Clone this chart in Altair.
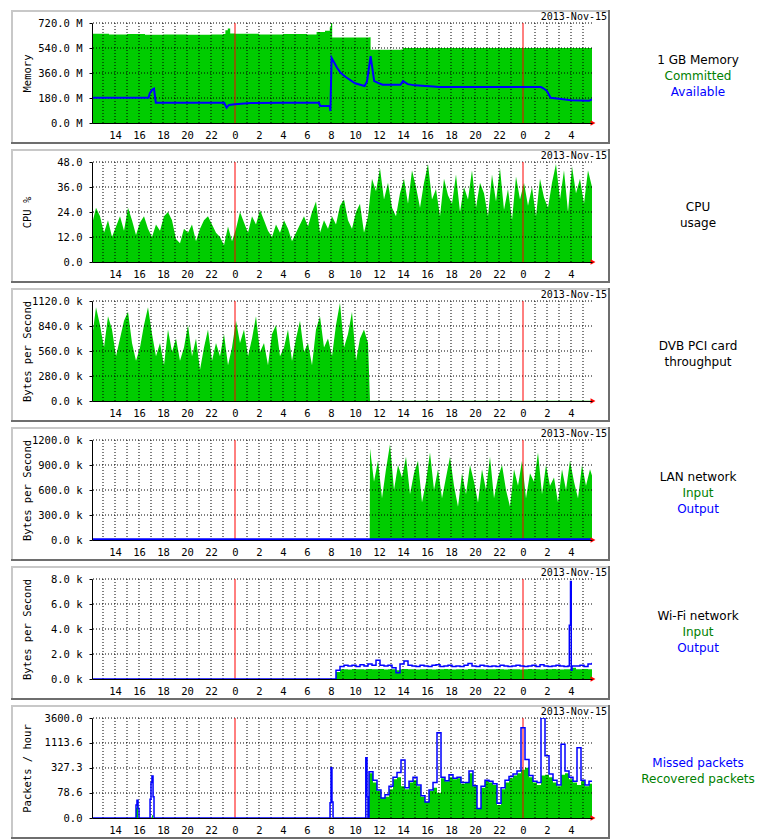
import altair as alt
import numpy as np
import pandas as pd

# ---------------- common time axis (hours relative to midnight 14 Nov) ----------------
T0, T1 = -11.917, 29.75
STEP = 1 / 3  # 20 minutes
XLABEL_HOURS = list(range(-10, 30, 2))
XGRID_HOURS = [h for h in range(-11, 30) if h not in (0, 24)]
MIDNIGHTS = [0, 24]
DATE_TEXT = "2013-Nov-15"

# ---------------- panel 1: memory ----------------
MEM_TICKS = [0, 180, 360, 540, 720]
MEM_COMMIT_T = [-11.917, -10.5, -9.0, -7.5, -6.0, -4.0, -2.0, -1.0, -0.8, -0.6, -0.4, 0.0,
                2.0, 4.0, 6.0, 6.8, 7.5, 7.9, 8.0, 8.1, 11.2, 11.3, 13.8, 14.0, 29.75]
MEM_COMMIT_V = [642, 638, 640, 636, 638, 636, 638, 640, 668, 680, 645, 642,
                638, 640, 638, 655, 665, 690, 720, 615, 618, 528, 530, 540, 538]
MEM_AVAIL_T = [-11.917, -7.2, -7.1, -6.9, -6.75, -6.6, -0.9, -0.7, -0.5, 0.0, 1.3, 4.0,
               7.0, 7.1, 7.9, 7.95, 8.05, 8.5, 8.8, 9.2, 10.0, 10.8, 11.0, 11.3, 11.6,
               12.0, 12.3, 13.8, 14.0, 14.4, 15.0, 16.5, 17.0, 25.5, 25.7, 26.0, 26.3,
               27.0, 28.0, 29.5, 29.75]
MEM_AVAIL_V = [182, 182, 215, 240, 247, 146, 146, 110, 130, 135, 144, 146,
               146, 122, 122, 86, 470, 398, 362, 333, 286, 266, 300, 482, 302,
               286, 276, 276, 302, 280, 271, 262, 259, 259, 250, 230, 182,
               175, 163, 160, 170]

# ---------------- panel 2: CPU (20-minute samples from T0) ----------------
CPU_TICKS = [0, 12, 24, 36, 48]
CPU = [18, 26, 22, 14, 20, 12, 17, 22, 15, 26, 20, 13,
       19, 22, 16, 12, 18, 15, 22, 24, 20, 11, 9, 16,
       14, 18, 10, 16, 20, 22, 18, 14, 12, 8, 17, 10,
       16, 24, 19, 14, 22, 18, 25, 20, 15, 12, 18, 14,
       20, 16, 10, 14, 18, 22, 17, 24, 29, 14, 20, 16,
       22, 18, 27, 30, 20, 16, 24, 28, 14, 22, 40, 34,
       45, 30, 38, 26, 22, 33, 40, 28, 44, 36, 26, 38,
       47, 30, 35, 22, 40, 32, 28, 42, 24, 36, 30, 44,
       26, 38, 33, 22, 42, 29, 45, 25, 35, 20, 41, 30,
       38, 27, 36, 22, 40, 31, 26, 38, 47, 30, 44, 24,
       46, 33, 40, 28, 44, 36]

# ---------------- panel 3: DVB card (k bytes/s) ----------------
DVB_TICKS = [0, 280, 560, 840, 1120]
DVB = [700, 1050, 850, 600, 950, 800, 500, 700, 900, 1000, 650, 450,
       600, 850, 1050, 750, 500, 650, 400, 800, 550, 700, 450, 600,
       850, 500, 700, 350, 600, 800, 450, 650, 500, 750, 400, 600,
       900, 650, 800, 500, 700, 950, 550, 650, 400, 750, 850, 500,
       600, 800, 450, 700, 900, 550, 650, 400, 800, 950, 600, 700,
       500, 850, 1100, 600, 750, 1000, 450, 700, 800, 650]
DVB_TAIL_T = [11.25, 29.75]
DVB_TAIL_V = [4, 4]

# ---------------- panel 4: LAN (k bytes/s) ----------------
LAN_TICKS = [0, 300, 600, 900, 1200]
LAN_IN_START = 11.25
LAN_IN = [1100, 700, 950, 500, 850, 1150, 600, 900, 750, 1000, 550, 800,
          950, 450, 700, 1050, 600, 850, 500, 750, 1000, 650, 400, 800,
          550, 900, 700, 450, 850, 600, 1000, 500, 750, 900, 600, 400,
          850, 650, 950, 500, 800, 700, 1050, 550, 900, 650, 750, 450,
          850, 600, 950, 700, 500, 900, 650, 850, 700]
LAN_OUT_T = [-11.917, 29.75]
LAN_OUT_V = [8, 8]

# ---------------- panel 5: Wi-Fi (bytes/s) ----------------
WIFI_TICKS = [0, 2000, 4000, 6000, 8000]
WIFI_START = 8.417
WIFI_IN = [560, 780, 790, 770, 800, 780, 790, 770, 800, 790, 780, 800,
           770, 790, 780, 700, 780, 800, 780, 790, 770, 780, 790, 780,
           770, 790, 780, 800, 780, 770, 790, 780, 770, 800, 780, 790,
           780, 770, 790, 780, 800, 780, 770, 790, 780, 790, 770, 780,
           800, 780, 790, 770, 780, 790, 800, 780, 770, 790, 780, 900,
           790, 780, 800, 790, 800]
WIFI_OUT = [700, 1000, 1100, 1050, 1100, 1000, 1150, 1050, 1200, 1100, 1500, 1100,
            1050, 1100, 900, 500, 1200, 1450, 1100, 1050, 1000, 1100, 1050, 1000,
            1100, 1150, 1000, 1050, 1100, 1000, 1050, 1000, 1100, 1250, 1050, 1000,
            1100, 1050, 1000, 1050, 1000, 1100, 1050, 1000, 1050, 1100, 1050, 1000,
            1050, 1100, 1000, 1150, 1050, 1000, 1050, 1100, 1050, 1000, 1050, 1050,
            1050, 1100, 1000, 1200, 1300]
WIFI_SPIKE_T = [27.86, 27.96, 28.02]
WIFI_SPIKE_V = [4300, 7800, 700]

# ---------------- panel 6: packets / hour ----------------
PKT_TICKS = [0, 78.6, 327.3, 1113.6, 3600.0]
PKT_MISS_T = [-11.917, -8.33, -8.25, -8.17, -8.08, -8.0, -7.17, -7.08, -7.0, -6.92, -6.83,
              -6.75, 7.83, 7.92, 8.0, 8.08, 8.17, 10.83, 10.9, 11.0, 11.08]
PKT_MISS_V = [0, 0, 30, 46, 20, 0, 0, 50, 150, 215, 60,
              0, 0, 37, 332, 40, 0, 0, 548, 60, 0]
PKT_REC_T = [-11.917, -8.33, -8.25, -8.17, -8.08, -6.92, -6.83]
PKT_REC_V = [0, 0, 22, 30, 0, 5, 0]
PKT_START = 11.167
PKT_REC = [250, 150, 90, 55, 60, 100, 180, 200, 120, 100, 150, 170,
           120, 60, 40, 90, 110, 80, 190, 160, 200, 180, 190, 140,
           150, 250, 120, 20, 110, 160, 150, 130, 30, 100, 150, 190,
           220, 250, 300, 330, 200, 150, 130, 220, 230, 200, 150, 120,
           230, 250, 180, 150, 130, 160, 120, 140, 140]
PKT_MISS = [270, 170, 95, 55, 70, 120, 200, 260, 490, 110, 160, 200,
            130, 65, 40, 95, 150, 1811, 200, 165, 230, 190, 200, 150,
            150, 280, 125, 20, 120, 170, 160, 140, 35, 110, 170, 210,
            240, 280, 2290, 500, 220, 160, 150, 3600, 600, 240, 170, 130,
            1046, 280, 200, 160, 890, 170, 130, 160, 160]

# ---------------- styling ----------------
GREEN = "#00cc00"
GREEN_TXT = "#008000"
BLUE = "#0000ff"
RED = "#ff0000"
MONO = "DejaVu Sans Mono"
SANS = "DejaVu Sans"


def grid_df(start, values):
    return pd.DataFrame({"h": start + np.arange(len(values)) * STEP, "v": values})


def pts_df(times, values):
    return pd.DataFrame({"h": times, "v": values})


def one():
    return pd.DataFrame({"a": [0]})


def frame_layers():
    light, dark = "#c8c8c8", "#6e6e6e"
    return [
        alt.Chart(one()).mark_rule(color=light, strokeWidth=2).encode(
            x=alt.value(-81), x2=alt.value(518), y=alt.value(-12)),
        alt.Chart(one()).mark_rule(color=light, strokeWidth=2).encode(
            x=alt.value(-80), y=alt.value(-13), y2=alt.value(121)),
        alt.Chart(one()).mark_rule(color=dark, strokeWidth=2).encode(
            x=alt.value(-81), x2=alt.value(518), y=alt.value(120)),
        alt.Chart(one()).mark_rule(color=dark, strokeWidth=2).encode(
            x=alt.value(517), y=alt.value(-13), y2=alt.value(121)),
    ]


def make_panel(yscale, yticks, label_expr, ytitle, areas, lines, legend):
    X = alt.X("h:Q", scale=alt.Scale(domain=[T0, T1], nice=False, zero=False),
              axis=alt.Axis(values=XLABEL_HOURS, labelExpr="((datum.value % 24) + 24) % 24",
                            grid=False, ticks=False, domain=True, domainColor="black",
                            labelFont=MONO, labelFontSize=10.5, labelColor="black",
                            labelPadding=7, labelOverlap=False, labelFlush=False,
                            title=None, zindex=1))
    Y = alt.Y("v:Q", scale=yscale,
              axis=alt.Axis(values=yticks, labelExpr=label_expr, grid=False, ticks=True,
                            tickSize=3, tickColor="black", domain=True, domainColor="black",
                            labelFont=MONO, labelFontSize=10.5, labelColor="black",
                            labelPadding=7, labelOverlap=False, labelFlush=False,
                            title=ytitle, titleFont=MONO, titleFontSize=10.5,
                            titleFontWeight="normal", titleColor="black",
                            titleX=-65, titleY=50, titleAngle=270, titleAlign="center",
                            titleBaseline="middle", zindex=1))
    layers = frame_layers()
    for df, interp in areas:
        layers.append(alt.Chart(df).mark_area(color=GREEN, interpolate=interp,
                                              clip=True, opacity=1).encode(x=X, y=Y))
    layers.append(alt.Chart(pd.DataFrame({"h": XGRID_HOURS})).mark_rule(
        color="black", strokeDash=[1, 2], strokeWidth=1).encode(x=X))
    layers.append(alt.Chart(pd.DataFrame({"v": [t for t in yticks if t > 0]})).mark_rule(
        color="black", strokeDash=[1, 2], strokeWidth=1).encode(y=Y))
    layers.append(alt.Chart(pd.DataFrame({"h": MIDNIGHTS})).mark_rule(
        color=RED, strokeWidth=1).encode(x=X))
    for df, w, interp in lines:
        layers.append(alt.Chart(df).mark_line(color=BLUE, strokeWidth=w, interpolate=interp,
                                              clip=True).encode(x=X, y=Y))
    layers.append(alt.Chart(pd.DataFrame({"h": [T1], "v": [0]})).mark_point(
        shape="triangle-right", filled=True, color=RED, size=32, opacity=1, xOffset=1).encode(x=X, y=Y))
    layers.append(alt.Chart(one()).mark_text(
        text=DATE_TEXT, font=MONO, fontSize=10, color="black", align="right",
        baseline="alphabetic").encode(x=alt.value(515), y=alt.value(-3)))
    ys = [37, 53, 69] if len(legend) == 3 else [45, 61]
    for (txt, col), yy in zip(legend, ys):
        layers.append(alt.Chart(one()).mark_text(
            text=txt, font=SANS, fontSize=12, color=col, align="center",
            baseline="middle").encode(x=alt.value(606), y=alt.value(yy)))
    return alt.layer(*layers).properties(width=500, height=100)


lin = lambda mx: alt.Scale(domain=[0, mx], nice=False, zero=True)

p1 = make_panel(lin(720), MEM_TICKS, "format(datum.value, '.1f') + ' M'", "Memory",
                [(pts_df(MEM_COMMIT_T, MEM_COMMIT_V), "step-after")],
                [(pts_df(MEM_AVAIL_T, MEM_AVAIL_V), 2, "linear")],
                [("1 GB Memory", "black"), ("Committed", GREEN_TXT), ("Available", BLUE)])

p2 = make_panel(lin(48), CPU_TICKS, "format(datum.value, '.1f')", "CPU %",
                [(grid_df(T0, CPU), "linear")], [],
                [("CPU", "black"), ("usage", "black")])

dvb_df = pd.concat([grid_df(T0, DVB), pts_df(DVB_TAIL_T, DVB_TAIL_V)]).sort_values("h")
p3 = make_panel(lin(1120), DVB_TICKS, "format(datum.value, '.1f') + ' k'", "Bytes per Second",
                [(dvb_df, "linear")], [],
                [("DVB PCI card", "black"), ("throughput", "black")])

lan_in_df = pd.concat([pts_df([T0, LAN_IN_START - 0.02], [0, 0]), grid_df(LAN_IN_START, LAN_IN)])
p4 = make_panel(lin(1200), LAN_TICKS, "format(datum.value, '.1f') + ' k'", "Bytes per Second",
                [(lan_in_df, "linear")], [(pts_df(LAN_OUT_T, LAN_OUT_V), 2, "step-after")],
                [("LAN network", "black"), ("Input", GREEN_TXT), ("Output", BLUE)])

wifi_in_df = pd.concat([pts_df([T0], [0]), grid_df(WIFI_START, WIFI_IN)])
wifi_out_df = pd.concat([pts_df([T0], [0]), grid_df(WIFI_START, WIFI_OUT),
                         pts_df(WIFI_SPIKE_T, WIFI_SPIKE_V)]).sort_values("h")
p5 = make_panel(lin(8000), WIFI_TICKS, "format(datum.value / 1000, '.1f') + ' k'", "Bytes per Second",
                [(wifi_in_df, "step-after")], [(wifi_out_df, 1.5, "step-after")],
                [("Wi-Fi network", "black"), ("Input", GREEN_TXT), ("Output", BLUE)])

pkt_rec_df = pd.concat([pts_df(PKT_REC_T, PKT_REC_V), grid_df(PKT_START, PKT_REC)])
pkt_miss_df = pd.concat([pts_df(PKT_MISS_T, PKT_MISS_V), grid_df(PKT_START, PKT_MISS)])
p6 = make_panel(alt.Scale(type="symlog", constant=36.3, domain=[0, 3600], nice=False, zero=True),
                PKT_TICKS, "format(datum.value, '.1f')", "Packets / hour",
                [(pkt_rec_df, "step-after")], [(pkt_miss_df, 1.5, "step-after")],
                [("Missed packets", BLUE), ("Recovered packets", GREEN_TXT)])

chart = alt.vconcat(p1, p2, p3, p4, p5, p6, spacing=39, bounds="flush").resolve_scale(
    x="independent", y="independent").properties(
    padding={"left": 1, "top": 0, "right": 0, "bottom": 0}).configure_view(stroke="transparent")

chart.save("out.html", embed_options={"renderer": "svg", "actions": False})
